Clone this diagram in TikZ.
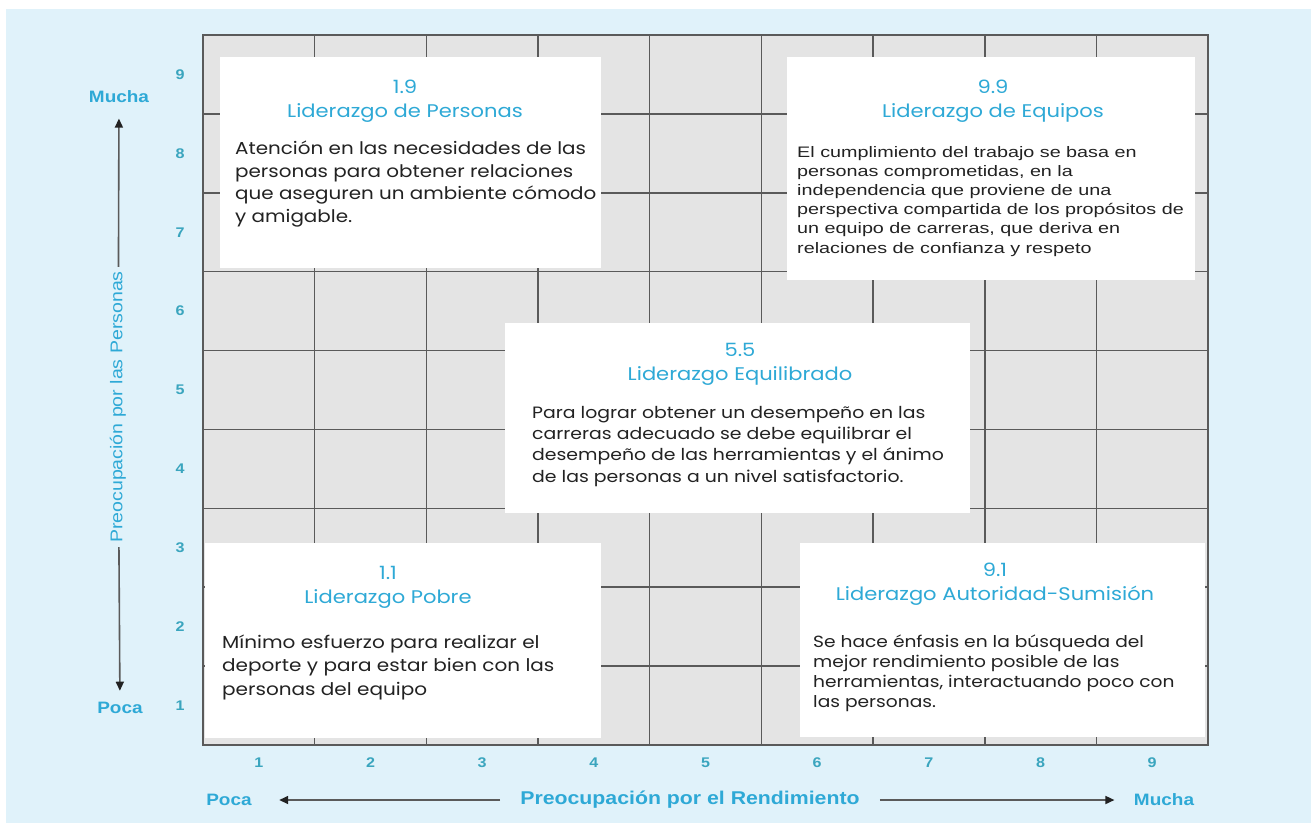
\documentclass[tikz,border=0pt]{standalone}
\usepackage{fontspec}
\setmainfont[FakeStretch=1.15]{Liberation Sans}
\newfontfamily\geofont[FakeStretch=1.15]{Poppins}
\newfontfamily\anchafont[FakeStretch=1.3]{Liberation Sans}
\usetikzlibrary{arrows.meta}
\usetikzlibrary{positioning}
\definecolor{fondo}{HTML}{E0F2FA}
\definecolor{celda}{HTML}{E4E4E4}
\definecolor{linea}{HTML}{5A5A5A}
\definecolor{cian}{HTML}{2EA9D6}
\definecolor{eje}{HTML}{3AA5BE}
\definecolor{texto}{HTML}{222222}

\begin{document}
\begin{tikzpicture}[x=1pt, y=-1pt,
			caja/.style={fill=white, inner sep=0pt, anchor=north west},
			titulo/.style={font=\geofont\fontsize{18.3}{24}\selectfont, text=cian, align=center, anchor=base, inner sep=0pt},
			cuerpo/.style={font=\geofont\fontsize{17.3}{22.5}\selectfont, text=texto, align=left, anchor=base west, inner sep=0pt},
			num/.style={font=\bfseries\fontsize{14}{14}\selectfont, text=eje},
			extremo/.style={font=\bfseries\fontsize{16.5}{16.5}\selectfont, text=cian},
			flecha/.style={draw=linea, line width=1.6pt, -{Triangle[length=9pt, width=8pt, color=texto]}}
		]
		\useasboundingbox (0,0) rectangle (1311,823);
		\fill[white] (0,0) rectangle (1311,823);
		\fill[fondo] (6,9) rectangle (1311,823);

		% rejilla 9x9
		\fill[celda] (203,35) rectangle (1208,745);
		\foreach \i in {1,...,8} {
			\draw[linea, line width=1.6pt] ({203+\i*111.67},35) -- ++(0,710);
			\draw[linea, line width=1.6pt] (203,{35+\i*78.89}) -- ++(1005,0);
		}
		\draw[linea, line width=2pt] (203,35) rectangle (1208,745);

		% numeros de los ejes
		\foreach \k in {1,...,9} {
			\node[num] (y\k) at (180,{745-78.89*(\k-0.5)}) {\k};
			\node[num] (x\k) at ({203+111.67*(\k-0.5)},763) {\k};
		}

		% cajas
		\node[caja, minimum width=381, minimum height=211] (c19) at (220,57) {};
		\node[caja, minimum width=408, minimum height=223] (c99) at (787,57) {};
		\node[caja, minimum width=465, minimum height=190] (c55) at (505,323) {};
		\node[caja, minimum width=396, minimum height=195] (c11) at (205,543) {};
		\node[caja, minimum width=405, minimum height=194] (c91) at (800,543) {};

		% textos (base = ultima linea)
		\node[titulo] (t19) at (405,117) {1.9\\Liderazgo de Personas};
		\node[cuerpo] (b19) at (235,222) {Atención en las necesidades de las\\personas para obtener relaciones\\que aseguren un ambiente cómodo\\y amigable.};

		\node[titulo] (t99) at (993,117) {9.9\\Liderazgo de Equipos};
		\node[cuerpo, font=\anchafont\fontsize{15.2}{19.2}\selectfont] (b99) at (797,253) {El cumplimiento del trabajo se basa en\\personas comprometidas, en la\\independencia que proviene de una\\perspectiva compartida de los propósitos de\\un equipo de carreras, que deriva en\\relaciones de confianza y respeto};

		\node[titulo] (t55) at (740,380) {5.5\\Liderazgo Equilibrado};
		\node[cuerpo, font=\geofont\fontsize{16.4}{21.3}\selectfont] (b55) at (532,482) {Para lograr obtener un desempeño en las\\carreras adecuado se debe equilibrar el\\desempeño de las herramientas y el ánimo\\de las personas a un nivel satisfactorio.};

		\node[titulo] (t11) at (388,603) {1.1\\Liderazgo Pobre};
		\node[cuerpo, font=\geofont\fontsize{17.4}{23.5}\selectfont] (b11) at (222,695) {Mínimo esfuerzo para realizar el\\deporte y para estar bien con las\\personas del equipo};

		\node[titulo] (t91) at (995,600) {9.1\\Liderazgo Autoridad-Sumisión};
		\node[cuerpo, font=\geofont\fontsize{16.2}{20}\selectfont] (b91) at (813,707) {Se hace énfasis en la búsqueda del\\mejor rendimiento posible de las\\herramientas, interactuando poco con\\las personas.};

		% eje vertical
		\node[extremo] (ymucha) at (119,97) {Mucha};
		\node[extremo] (ypoca) at (120,708) {Poca};
		\node[font=\fontsize{17}{17}\selectfont, text=cian, rotate=90, inner sep=4pt] (yeje) at (118,407) {Preocupación por las Personas};
		\draw[flecha, shorten >=12pt] (yeje) -- (ymucha);
		\draw[flecha, shorten >=8pt] (yeje) -- (ypoca);

		% eje horizontal
		\node[extremo] (xpoca) at (229,800) {Poca};
		\node[extremo] (xmucha) at (1164,800) {Mucha};
		\node[font=\bfseries\fontsize{18.5}{18.5}\selectfont, text=cian, inner sep=20pt] (xeje) at (690,800) {Preocupación por el Rendimiento};
		\draw[flecha, shorten >=24pt] (xeje) -- (xpoca);
		\draw[flecha, shorten >=16pt] (xeje) -- (xmucha);
	\end{tikzpicture}
\end{document}
